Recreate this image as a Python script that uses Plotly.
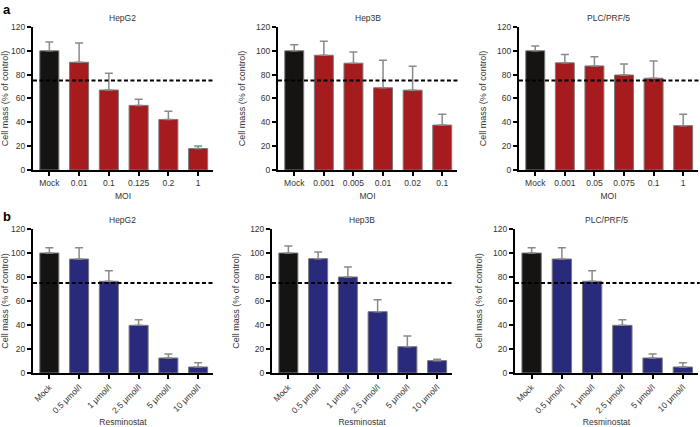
import plotly.graph_objects as go

# ---- data ----
moi_hepg2 = ["Mock", "0.01", "0.1", "0.125", "0.2", "1"]
moi_hep3b = ["Mock", "0.001", "0.005", "0.01", "0.02", "0.1"]
moi_plc = ["Mock", "0.001", "0.05", "0.075", "0.1", "1"]
resm_labels = ["Mock", "0.5 μmol/l", "1 μmol/l", "2.5 μmol/l", "5 μmol/l", "10 μmol/l"]

a_hepg2 = [100, 90.4, 67.1, 54.2, 42.4, 18]
a_hepg2_err = [7.3, 16.1, 14.1, 5.1, 6.8, 2.2]
a_hep3b = [100, 96.3, 89.6, 69, 67, 37.7]
a_hep3b_err = [5, 11.7, 9.4, 23, 20, 9.1]
a_plc = [100, 89.9, 87.3, 79.7, 77, 37.2]
a_plc_err = [4, 7.1, 7.7, 9.3, 14.5, 9.6]

b_hepg2 = [100, 95, 76.4, 39.7, 12.5, 5]
b_hepg2_err = [4.4, 9.4, 8.9, 4.7, 3.3, 3.6]
b_hep3b = [100, 95.3, 80, 51.1, 21.9, 10.3]
b_hep3b_err = [5.8, 5.5, 8.3, 10, 8.9, 1.1]
b_plc = [100, 95, 76.4, 39.7, 12.5, 5]
b_plc_err = [4.4, 9.4, 8.9, 4.7, 3.3, 3.6]

threshold = 75

BLACK = "#151412"
RED = "#A61B1E"
BLUE = "#2A2A7C"
FONT = "Liberation Sans, Arial, sans-serif"

panels = [
    # (labels, values, err, color, title, xtitle, xdomain, ydomain, rotated, ytitle standoff)
    (moi_hepg2, a_hepg2, a_hepg2_err, RED, "HepG2", "MOI", [0.0471, 0.3043], [0.6019, 0.9368], False, 5),
    (moi_hep3b, a_hep3b, a_hep3b_err, RED, "Hep3B", "MOI", [0.3971, 0.6529], [0.6019, 0.9368], False, 9),
    (moi_plc, a_plc, a_plc_err, RED, "PLC/PRF/5", "MOI", [0.7414, 0.9971], [0.6019, 0.9368], False, 9),
    (resm_labels, b_hepg2, b_hepg2_err, BLUE, "HepG2", "Resminostat", [0.0471, 0.3043], [0.1265, 0.4637], True, 5),
    (resm_labels, b_hep3b, b_hep3b_err, BLUE, "Hep3B", "Resminostat", [0.3886, 0.6457], [0.1265, 0.4637], True, 9),
    (resm_labels, b_plc, b_plc_err, BLUE, "PLC/PRF/5", "Resminostat", [0.7357, 0.9971], [0.1265, 0.4637], True, 9),
]

fig = go.Figure()
layout = {}
shapes = []
annotations = []

for i, (labels, vals, err, col, title, xtitle, xd, yd, rot, ysoff) in enumerate(panels, start=1):
    xa = "x" if i == 1 else f"x{i}"
    ya = "y" if i == 1 else f"y{i}"
    fig.add_trace(go.Bar(
        x=list(range(len(labels))), y=vals,
        xaxis=xa, yaxis=ya,
        marker=dict(color=[BLACK] + [col] * (len(vals) - 1),
                    line=dict(color="#7a7a7a", width=1)),
        error_y=dict(type="data", symmetric=False, array=err,
                     arrayminus=[0] * len(err), color="#8a8a8a",
                     thickness=1.5, width=4),
        width=0.64, showlegend=False, hoverinfo="skip",
    ))
    xk = "xaxis" if i == 1 else f"xaxis{i}"
    yk = "yaxis" if i == 1 else f"yaxis{i}"
    layout[xk] = dict(
        domain=xd, anchor=ya, range=[-0.55, 5.5], automargin=False,
        tickmode="array", tickvals=list(range(len(labels))), ticktext=labels,
        tickangle=-45 if rot else 0,
        showline=True, linecolor="black", linewidth=2,
        ticks="outside", ticklen=4, tickwidth=1.5, tickcolor="black",
        showgrid=False, zeroline=False,
        tickfont=dict(size=8.5, color="#333", family=FONT),
        title=dict(text=xtitle, font=dict(size=8.5, color="#333", family=FONT),
                   standoff=6 if not rot else 8),
    )
    layout[yk] = dict(
        domain=yd, anchor=xa, range=[0, 120], automargin=False,
        tickvals=[0, 20, 40, 60, 80, 100, 120],
        showline=True, linecolor="black", linewidth=2,
        ticks="outside", ticklen=4, tickwidth=1.5, tickcolor="black",
        showgrid=False, zeroline=False,
        tickfont=dict(size=8.5, color="#333", family=FONT),
        title=dict(text="Cell mass (% of control)",
                   font=dict(size=9, color="#333", family=FONT), standoff=ysoff),
    )
    xdref = f"{xa} domain"
    shapes.append(dict(type="line", xref=xdref, yref=ya, x0=0, x1=1.01,
                       y0=threshold, y1=threshold, layer="above",
                       line=dict(color="black", width=2, dash="4px,2.5px")))
    annotations.append(dict(text=title, xref=xdref, yref=f"{ya} domain",
                            x=0.5, y=1.0, yanchor="bottom", xanchor="center",
                            showarrow=False, yshift=2,
                            font=dict(size=8.5, color="#333", family=FONT)))

annotations.append(dict(text="<b>a</b>", xref="paper", yref="paper", x=0.002, y=1.0,
                        xanchor="left", yanchor="top", showarrow=False,
                        font=dict(size=13, color="black", family=FONT)))
annotations.append(dict(text="<b>b</b>", xref="paper", yref="paper", x=0.002, y=(427 - 207) / 427,
                        xanchor="left", yanchor="top", showarrow=False,
                        font=dict(size=13, color="black", family=FONT)))

fig.update_layout(
    width=700, height=427,
    margin=dict(l=0, r=0, t=0, b=0, autoexpand=False),
    paper_bgcolor="white", plot_bgcolor="white",
    shapes=shapes, annotations=annotations,
    font=dict(family=FONT),
    hovermode=False,
    **layout,
)

fig.write_html("out.html",
               config={"displayModeBar": False},
               post_script="document.body.style.margin='0';document.body.style.overflow='hidden';")
